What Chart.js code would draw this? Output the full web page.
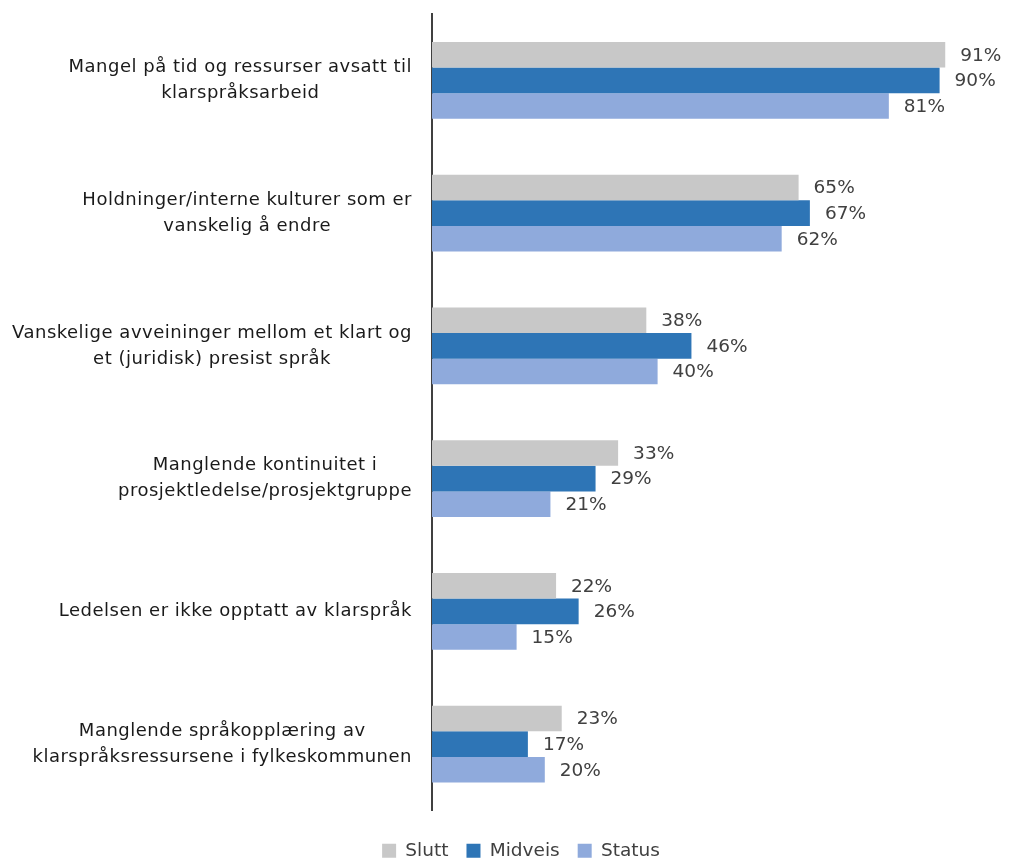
<!DOCTYPE html>
<html>
<head>
<meta charset="utf-8">
<script src="https://cdn.jsdelivr.net/npm/chart.js@4"></script>
<style>
  body { margin: 0; background: #fff; }
  #wrap { width: 1009px; height: 859px; }
</style>
</head>
<body>
<div id="wrap"><canvas id="myChart" width="1009" height="859"></canvas></div>
<script>
  const categories = [
    ["Mangel på tid og ressurser avsatt til", "klarspråksarbeid"],
    ["Holdninger/interne kulturer som er", "vanskelig å endre"],
    ["Vanskelige avveininger mellom et klart og", "et (juridisk) presist språk"],
    ["Manglende kontinuitet i", "prosjektledelse/prosjektgruppe"],
    ["Ledelsen er ikke opptatt av klarspråk"],
    ["Manglende språkopplæring av", "klarspråksressursene i fylkeskommunen"],
  ];
  const slutt = [91, 65, 38, 33, 22, 23];
  const midveis = [90, 67, 46, 29, 26, 17];
  const status = [81, 62, 40, 21, 15, 20];

  const FONT = "'DejaVu Sans', sans-serif";

  // draws the category labels: block right-aligned, lines centered in it
  const catLabels = {
    id: "catLabels",
    afterDraw(chart) {
      const ctx = chart.ctx;
      const y = chart.scales.y;
      ctx.save();
      ctx.font = "18px " + FONT;
      ctx.letterSpacing = "0.5px";
      ctx.fillStyle = "#1a1a1a";
      ctx.textAlign = "center";
      ctx.textBaseline = "middle";
      const lh = 26;
      categories.forEach((lines, i) => {
        const cy = y.getPixelForTick(i);
        const w = Math.max(...lines.map((l) => ctx.measureText(l).width));
        const cx = 412 - w / 2;
        const top = cy - ((lines.length - 1) * lh) / 2;
        lines.forEach((l, j) => ctx.fillText(l, cx, top + j * lh));
      });
      ctx.restore();
    },
  };

  // percentage labels right of each bar
  const valueLabels = {
    id: "valueLabels",
    afterDatasetsDraw(chart) {
      const ctx = chart.ctx;
      ctx.save();
      ctx.font = "18.5px " + FONT;
      ctx.fillStyle = "#404040";
      ctx.textAlign = "left";
      ctx.textBaseline = "middle";
      chart.data.datasets.forEach((ds, di) => {
        chart.getDatasetMeta(di).data.forEach((bar, i) => {
          ctx.fillText(ds.data[i] + "%", bar.x + 15, bar.y + 1);
        });
      });
      ctx.restore();
    },
  };

  const ctx = document.getElementById("myChart").getContext("2d");
  new Chart(ctx, {
    type: "bar",
    data: {
      labels: categories,
      datasets: [
        { label: "Slutt", data: slutt, backgroundColor: "#c8c8c8" },
        { label: "Midveis", data: midveis, backgroundColor: "#2e75b6" },
        { label: "Status", data: status, backgroundColor: "#8faadc" },
      ],
    },
    options: {
      indexAxis: "y",
      responsive: false,
      animation: false,
      categoryPercentage: 0.58,
      barPercentage: 1,
      layout: { padding: { left: 46, right: 13, top: 14, bottom: -11 } },
      scales: {
        x: {
          min: 0,
          max: 100,
          grid: { display: false, drawTicks: false },
          border: { display: false },
          ticks: { display: false },
          afterFit(scale) {
            scale.height = 13;
          },
        },
        y: {
          grid: { display: false, drawTicks: false },
          border: { display: true, color: "#404040", width: 2 },
          ticks: { display: false },
          afterFit(scale) {
            scale.width = 386;
          },
        },
      },
      plugins: {
        legend: {
          position: "bottom",
          labels: {
            boxWidth: 14,
            boxHeight: 14,
            padding: 18,
            color: "#404040",
            font: { size: 18.5, family: FONT },
          },
        },
        tooltip: { enabled: false },
      },
    },
    plugins: [catLabels, valueLabels],
  });
</script>
</body>
</html>
